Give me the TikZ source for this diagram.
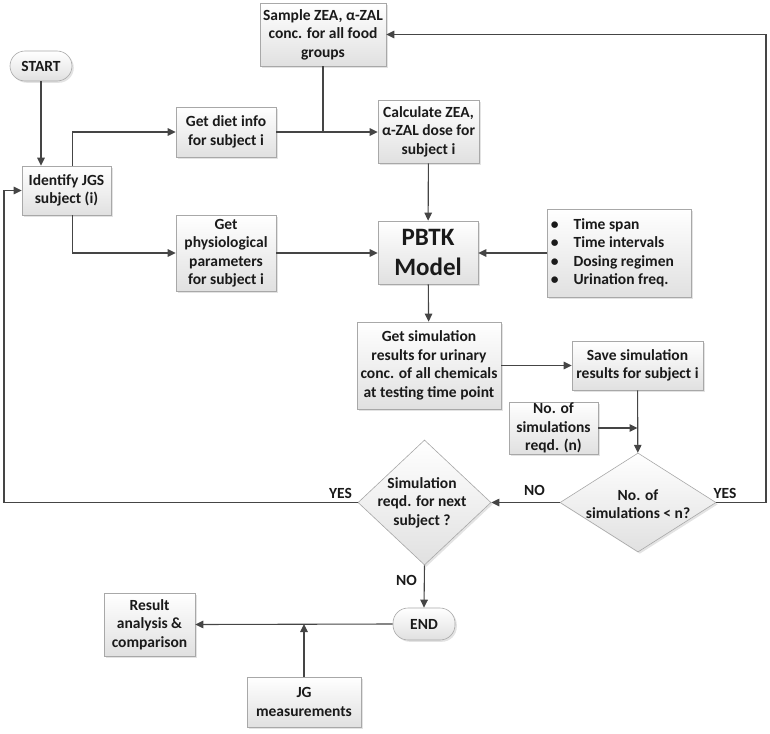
\documentclass[tikz,border=0pt]{standalone}
\usepackage{fontspec}
\setmainfont{Carlito}
\usetikzlibrary{arrows.meta,shapes.geometric,shadows,calc}
\definecolor{linec}{HTML}{454545}
\definecolor{bordc}{HTML}{A8A8A8}
\definecolor{txtc}{HTML}{1A1A1A}
\tikzset{
  box/.style={draw=bordc, line width=0.6pt, top color=white, bottom color=black!12,
    drop shadow={opacity=0.22, shadow xshift=1.8pt, shadow yshift=-1.8pt},
    align=center, inner sep=1pt, text=txtc,
    font=\fontsize{15.5}{18.5}\selectfont\bfseries},
  termbox/.style={box, rounded corners=15pt},
  diabox/.style={box, diamond, inner sep=0pt},
  lbl/.style={text=txtc, font=\fontsize{15.5}{18.5}\selectfont\bfseries, align=center, inner sep=0pt},
  arr/.style={draw=linec, line width=1.1pt, -{Triangle[length=8pt,width=7.5pt]}},
  ln/.style={draw=linec, line width=1.1pt},
}
\begin{document}
\begin{tikzpicture}[x=1pt,y=-1pt]
\useasboundingbox (0,0) rectangle (770,733);
% nodes
\node[termbox, minimum width=62pt, minimum height=30pt] (start) at (41,66) {START};
\node[box, minimum width=89pt, minimum height=49pt] (ident) at (66.5,190.5) {Identify JGS\\subject (i)};
\node[box, minimum width=100pt, minimum height=50pt] (diet) at (226,132) {Get diet info\\for subject i};
\node[box, minimum width=126pt, minimum height=63pt] (sample) at (323,34.5) {Sample ZEA, α-ZAL\\conc. for all food\\groups};
\node[box, minimum width=101pt, minimum height=63pt] (calc) at (428.5,131.5) {Calculate ZEA,\\α-ZAL dose for\\subject i};
\node[box, minimum width=100pt, minimum height=76pt] (phys) at (226,253) {Get\\physiological\\parameters\\for subject i};
\node[box, minimum width=100pt, minimum height=63pt, font=\fontsize{25}{29.5}\selectfont\bfseries] (pbtk) at (428,252.5) {PBTK\\Model};
\node[box, minimum width=144pt, minimum height=88pt] (bul) at (619,253) {};
\node[lbl, anchor=west, align=left] (blist) at ([xshift=4pt]bul.west)
  {\textbullet\hspace{15pt}Time span\\\textbullet\hspace{15pt}Time intervals\\\textbullet\hspace{15pt}Dosing regimen\\\textbullet\hspace{15pt}Urination freq.};
\node[box, minimum width=144pt, minimum height=87pt] (getsim) at (429,365.5) {Get simulation\\results for urinary\\conc. of all chemicals\\at testing time point};
\node[box, minimum width=131pt, minimum height=49pt] (save) at (637.5,365.5) {Save simulation\\results for subject i};
\node[box, minimum width=89pt, minimum height=50pt] (nreq) at (553.5,428) {No. of\\simulations\\reqd. (n)};
\node[diabox, minimum width=156pt, minimum height=99pt] (dia1) at (638,502.5) {};
\node[lbl] (dia1t) at (638,504) {No. of\\simulations < n?};
\node[diabox, minimum width=133pt, minimum height=125pt] (dia2) at (424.5,502.5) {};
\node[lbl] (dia2t) at (422,502.5) {Simulation\\reqd. for next\\subject ?};
\node[termbox, minimum width=62pt, minimum height=32pt] (endn) at (424,624) {END};
\node[box, minimum width=91pt, minimum height=63pt] (result) at (149.5,624.5) {Result\\analysis \&\\comparison};
\node[box, minimum width=114pt, minimum height=50pt] (jg) at (304,702) {JG\\measurements};
% labels
\node[lbl] (yes1) at (725,493) {YES};
\node[lbl] (no1) at (534.5,490) {NO};
\node[lbl] (yes2) at (340.5,493) {YES};
\node[lbl] (no2) at (406.5,580) {NO};
% coordinates
\coordinate (rt) at (766,502.5);
\coordinate (lt) at (4,502.5);
% connectors
\draw[arr] (start) -- (start |- ident.north);
\draw[arr] ([xshift=6pt]ident.north) |- (diet.west);
\draw[arr] ([xshift=6pt]ident.south) |- (phys.west);
\draw[arr] (diet.east) -- (diet.east -| calc.west);
\draw[ln] (sample.south) -- (sample.south |- diet.east);
\draw[arr] (calc) -- (pbtk);
\draw[arr] (phys.east) -- (phys.east -| pbtk.west);
\draw[arr] (bul.west) -- (bul.west -| pbtk.east);
\draw[arr] (pbtk) -- (getsim);
\draw[arr] (getsim.east) -- (getsim.east -| save.west);
\draw[arr] (save) -- (dia1);
\draw[arr] (nreq.east) -- (nreq.east -| save.south);
\draw[arr] (dia1.east) -- (rt) |- (sample.east);
\draw[arr] (dia1.west) -- (dia2.east);
\draw[arr] (dia2.west) -- (lt) |- (ident.west);
\draw[arr] (dia2.south) -- (endn.north);
\draw[arr] (endn.west) -- (result.east);
\draw[arr] (jg.north) -- (jg.north |- endn.west);
\end{tikzpicture}
\end{document}
